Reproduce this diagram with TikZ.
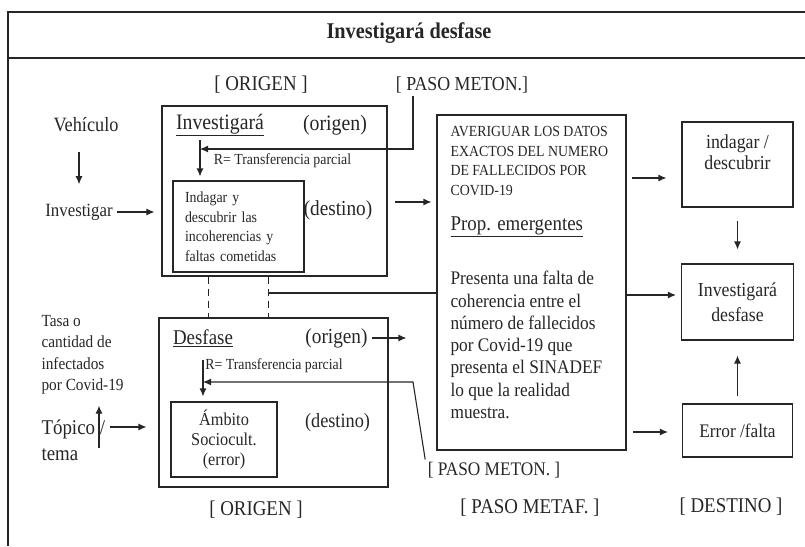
\documentclass[tikz,border=0pt]{standalone}
\usepackage{fontspec}
\setmainfont{Liberation Serif}[FakeStretch=0.9]
\usetikzlibrary{arrows.meta}

\begin{document}
\begin{tikzpicture}[x=1pt, y=-1pt, line width=1.1pt, color=black!85,
  >={Latex[length=8pt,width=7pt]},
  box/.style={draw, inner sep=0pt},
  tag/.style={inner sep=2pt, font=\fontsize{21}{24}\selectfont},
  note/.style={inner sep=1pt, font=\fontsize{15.4}{19.5}\selectfont},
  word/.style={inner sep=1pt, font=\fontsize{21}{24}\selectfont}]
\useasboundingbox (0,0) rectangle (805,546);

% Frame and title
\draw (805,12) -- (8,12) -- (8,546);
\draw (8,58) -- (805,58);
\node[font=\bfseries\fontsize{22.5}{26}\selectfont] (title) at (409,33) {Investigará desfase};

% Column labels
\node[tag] (orig1) at (261,85) {[ ORIGEN ]};
\node[tag, font=\fontsize{19.8}{24}\selectfont] (pmeton1) at (462,85) {[ PASO METON.]};
\node[tag] (orig2) at (256,510) {[ ORIGEN ]};
\node[tag, font=\fontsize{19.2}{24}\selectfont] (pmeton2) at (494,470) {[ PASO METON. ]};
\node[tag] (pmetaf) at (530,508) {[ PASO METAF. ]};
\node[tag] (dest) at (731,507) {[ DESTINO ]};

% Left side
\node[word, font=\fontsize{20.3}{24}\selectfont] (veh) at (86,125) {Vehículo};
\node[word, font=\fontsize{18.7}{24}\selectfont] (invg) at (79,212) {Investigar};
\node[inner sep=0pt, align=left, anchor=west, font=\fontsize{17}{21.5}\selectfont] (tasa) at (41,354.5) {Tasa o\\cantidad de\\infectados\\por Covid-19};
\node[inner sep=0pt, align=left, anchor=west, font=\fontsize{21}{26}\selectfont] (topico) at (41,440) {Tópico /\\tema};

% Origen box: Investigará
\node[box, minimum width=225, minimum height=170] (inv) at (274.5,191) {};
\node[word, font=\fontsize{22}{26}\selectfont] (invt) at (220,125) {\underline{Investigará}};
\node[word, font=\fontsize{22}{26}\selectfont] (og1) at (335,125) {(origen)};
\node[note] (rt1) at (282.5,161) {R= Transferencia parcial};
\node[box, minimum width=131, minimum height=91, text width=107, inner xsep=12pt, align=left, font=\fontsize{15.4}{19.5}\selectfont] (ind) at (238.5,226.5) {Indagar y\\descubrir las\\incoherencias y\\faltas cometidas};
\node[word, font=\fontsize{21.4}{26}\selectfont] (ds1) at (338,210) {(destino)};

% Origen box: Desfase
\node[box, minimum width=229, minimum height=169] (des) at (273.5,402.5) {};
\node[word] (desw) at (203,338) {\underline{Desfase}};
\node[word, font=\fontsize{21.4}{26}\selectfont] (og2) at (336.5,338) {(origen)};
\node[note] (rt2) at (274,366) {R= Transferencia parcial};
\node[box, minimum width=106, minimum height=75, align=center, font=\fontsize{18.1}{20}\selectfont] (amb) at (224,439.5) {Ámbito\\Sociocult.\\(error)};
\node[word, font=\fontsize{20.3}{26}\selectfont] (ds2) at (337.5,423) {(destino)};

% Paso metaf. box
\node[box, minimum width=189, minimum height=335] (big) at (531.5,282.5) {};
\node[note, anchor=west, align=left, inner sep=0pt] (avg) at (450,161) {AVERIGUAR LOS DATOS\\EXACTOS DEL NUMERO\\DE FALLECIDOS POR\\COVID-19};
\node[word, anchor=west, inner sep=0pt] (prop) at (450,227) {\underline{Prop. emergentes}};
\node[anchor=west, align=left, inner sep=0pt, font=\fontsize{19.2}{22.3}\selectfont] (pres) at (450,345) {Presenta una falta de\\coherencia entre el\\número de fallecidos\\por Covid-19 que\\presenta el SINADEF\\lo que la realidad\\muestra.};

% Destino boxes
\node[box, minimum width=111, minimum height=85] (indg) at (737.5,164.5) {};
\node[word, font=\fontsize{19.8}{21}\selectfont, align=center] (indgt) at (737.5,152.5) {indagar /\\descubrir};
\node[box, minimum width=112, minimum height=76, align=center, font=\fontsize{19.8}{25}\selectfont] (invd) at (737.5,302) {Investigará\\desfase};
\node[box, minimum width=110, minimum height=53, font=\fontsize{19.2}{22}\selectfont] (err) at (737.5,430.5) {Error /falta};

% Arrows, left side
\draw[->, shorten <=18pt, shorten >=18pt] (veh.south -| invg.north) -- (invg.north);
\draw[->, shorten <=3pt, shorten >=7pt] (invg.east) -- (invg.east -| inv.west);
\coordinate (up1) at (99,448);
\draw[->, shorten >=11pt] (up1) -- (up1 |- tasa.south);
\coordinate (tp) at (110,427);
\draw[->, shorten >=12pt] (tp) -- (tp -| des.west);

% Paso meton. arrows
\coordinate (k1) at (413,149);
\coordinate (t1) at (200,140);
\draw[->] (pmeton1.south -| k1) -- (k1) -- (k1 -| t1);
\draw[->, shorten >=4pt] (t1) -- (t1 |- ind.north);
\coordinate (t2) at (203,360);
\coordinate (k2) at (413,382);
\draw[->, shorten >=5pt] (t2) -- (t2 |- amb.north);
\draw[->] (pmeton2.north west) -- (k2) -- (k2 -| t2);

% Links between origen boxes
\draw[dashed, dash pattern=on 7pt off 5pt] ([xshift=47pt]inv.south west) -- ([xshift=47pt]inv.south west |- des.north);
\draw[dashed, dash pattern=on 7pt off 5pt] ([xshift=107pt]inv.south west) -- ([xshift=107pt]inv.south west |- des.north);
\coordinate (j1) at (269,293);
\draw (j1) -- (j1 -| big.west);

% Arrows to the middle
\coordinate (a1) at (395,202);
\draw[->, shorten >=5pt] (a1) -- (a1 -| big.west);
\draw[->, shorten <=3pt, shorten >=30pt] (og2.east) -- (og2.east -| big.west);

% Arrows to destino
\coordinate (a2) at (632,178);
\draw[->, shorten >=15pt] (a2) -- (a2 -| indg.west);
\draw[->, shorten <=13pt, shorten >=14pt] (indg) -- (invd);
\coordinate (a3) at (627,295);
\draw[->, shorten >=5pt] (a3) -- (a3 -| invd.west);
\draw[->, shorten <=7pt, shorten >=15pt] (err) -- (invd);
\coordinate (a4) at (633,432);
\draw[->, shorten >=14pt] (a4) -- (a4 -| err.west);

\end{tikzpicture}
\end{document}
